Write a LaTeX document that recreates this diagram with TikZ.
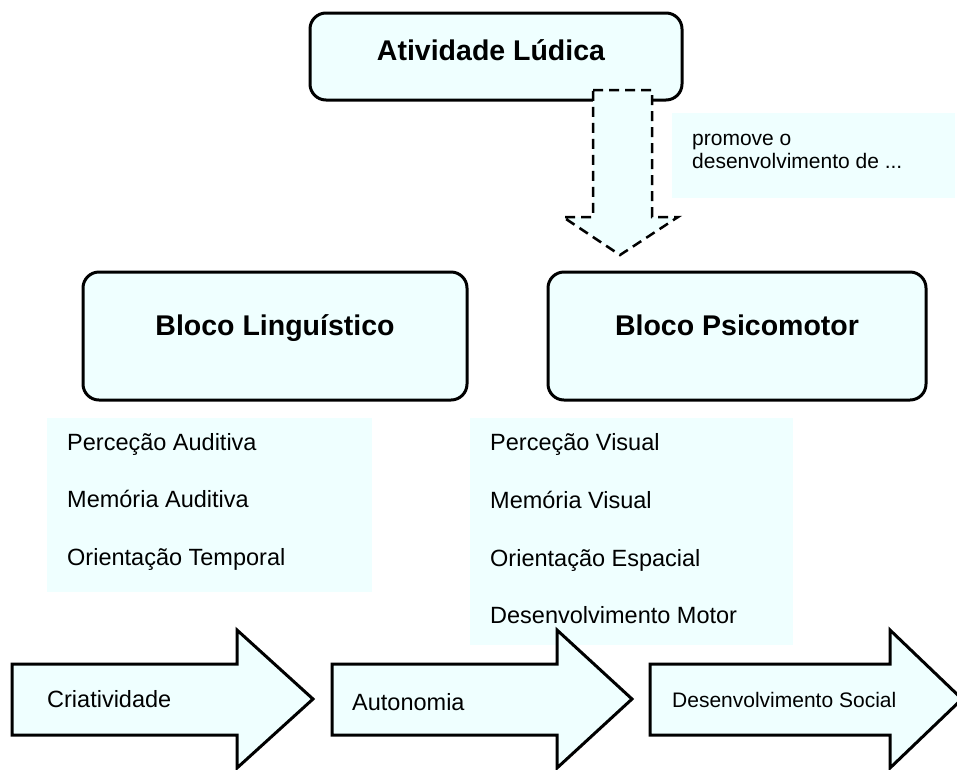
\documentclass[tikz,border=0pt]{standalone}
\usepackage{fontspec}
\setmainfont{Liberation Sans}
\definecolor{fillc}{HTML}{EFFFFF}
\begin{document}
\begin{tikzpicture}[x=1pt,y=-1pt]
\tikzset{
  blk/.style={draw=black, line width=3pt, fill=fillc, rounded corners=16pt, inner sep=0pt},
  panel/.style={fill=fillc, draw=none, inner sep=0pt},
  bigtxt/.style={font=\fontsize{28.5}{34}\selectfont\bfseries, anchor=base, inner sep=0pt},
  txt/.style={font=\fontsize{23.5}{28}\selectfont, anchor=base west, inner sep=0pt},
  smtxt/.style={font=\fontsize{21}{25}\selectfont, anchor=base west, inner sep=0pt},
  blockarrow/.style={draw=black, line width=3pt, fill=fillc, line join=miter},
  dasharrow/.style={draw=black, line width=2.5pt, fill=fillc, dash pattern=on 10pt off 6pt, line join=miter}
}
\useasboundingbox (0,0) rectangle (957,769);
\clip (0,0) rectangle (957,769);

% top box
\node[blk, minimum width=372pt, minimum height=87pt] (top) at (496,56.5) {};
\node[bigtxt] (toptxt) at (491,60) {Atividade Lúdica};

% dashed block arrow
\draw[dasharrow] (593,90) -- (652,90) -- (652,217) -- (678,217) -- (620,255) -- (563,217) -- (593,217) -- cycle;

% promove panel
\node[panel, minimum width=283pt, minimum height=85pt] (prom) at (813.5,155.5) {};
\node[smtxt] (prom1) at (692,145) {promove o};
\node[smtxt] (prom2) at (692,168) {desenvolvimento de ...};

% blocks
\node[blk, minimum width=384pt, minimum height=128pt] (ling) at (275,336) {};
\node[bigtxt] (lingtxt) at (275,335) {Bloco Linguístico};
\node[blk, minimum width=378pt, minimum height=128pt] (psi) at (737,336) {};
\node[bigtxt] (psitxt) at (737,335) {Bloco Psicomotor};

% list panels
\node[panel, minimum width=325pt, minimum height=174pt] (listL) at (209.5,505) {};
\node[panel, minimum width=323pt, minimum height=227pt] (listR) at (631.5,531.5) {};

% bottom arrows
\draw[blockarrow] (12,664) -- (237,664) -- (237,630) -- (313,699) -- (237,768) -- (237,735) -- (12,735) -- cycle;
\draw[blockarrow] (332,664) -- (557,664) -- (557,630) -- (632,699) -- (557,768) -- (557,735) -- (332,735) -- cycle;
\draw[blockarrow] (650,664) -- (890,664) -- (890,630) -- (962,699) -- (890,768) -- (890,735) -- (650,735) -- cycle;

% list texts
\node[txt] (l1) at (67,450) {Perceção Auditiva};
\node[txt] (l2) at (67,507) {Memória Auditiva};
\node[txt] (l3) at (67,565) {Orientação Temporal};
\node[txt] (r1) at (490,450) {Perceção Visual};
\node[txt] (r2) at (490,508) {Memória Visual};
\node[txt] (r3) at (490,566) {Orientação Espacial};
\node[txt] (r4) at (490,623) {Desenvolvimento Motor};

% arrow texts
\node[txt] (a1) at (47,707) {Criatividade};
\node[txt] (a2) at (352,710) {Autonomia};
\node[smtxt] (a3) at (672,707) {Desenvolvimento Social};
\end{tikzpicture}
\end{document}
